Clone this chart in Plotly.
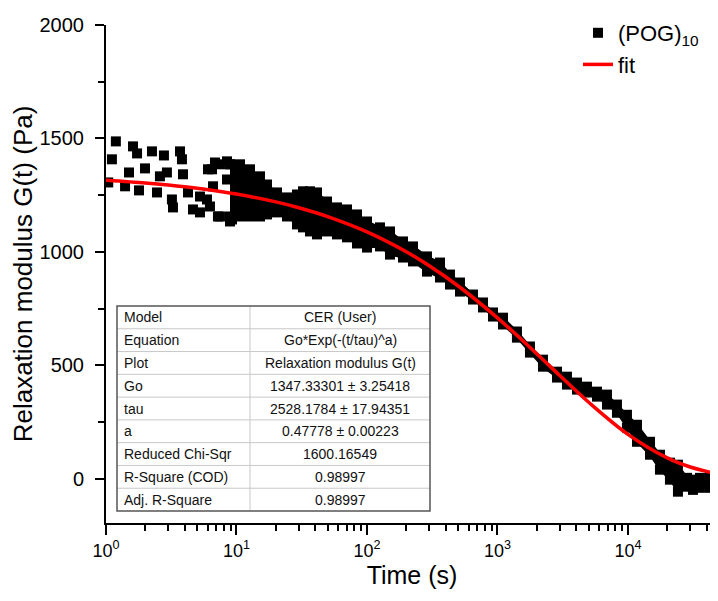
import plotly.graph_objects as go

# ---------------- data ----------------
# sparse early-time measurements (t in s, G in Pa)
t_sparse = [1.04, 1.11, 1.19, 1.40, 1.50, 1.61, 1.73, 1.79, 1.99, 2.25, 2.46, 2.59,
            2.78, 2.93, 3.20, 3.26, 3.69, 3.82, 3.89, 4.25, 4.64, 5.25, 5.25, 5.94,
            6.05, 6.26, 6.49, 6.61, 6.84, 7.21, 7.47, 7.47, 8.46, 8.46, 8.92, 8.92,
            9.24, 10.1, 10.1, 10.6, 12.0]
g_sparse = [1306, 1408, 1487, 1289, 1350, 1465, 1434, 1271, 1368, 1443, 1262, 1333,
            1425, 1350, 1231, 1196, 1443, 1408, 1342, 1262, 1187, 1174, 1244, 1231,
            1364, 1200, 1364, 1289, 1394, 1156, 1386, 1156, 1399, 1319, 1386, 1156,
            1143, 1377, 1200, 1174, 1350]

# dense part of the measurement: upper / lower edge of the point cloud
t_band = [8.92, 10.64, 12.69, 15.14, 17.13, 20.43, 24.38, 29.08, 32.33, 36.58, 41.40,
          49.38, 58.90, 70.27, 83.82, 100.0, 125.8, 150.1, 188.8, 225.2, 288.2, 362.6,
          432.5, 516.0, 649.1, 774.4, 923.8, 1102, 1410, 1774, 2232, 2858, 3408, 4067,
          4851, 5788, 6905, 8236, 9824, 11722, 14748, 17589, 20980, 24160, 28330,
          31490, 35620, 42510, 48080]
g_band_upper = [1386, 1386, 1364, 1333, 1297, 1262, 1240, 1253, 1267, 1267, 1262,
                1222, 1196, 1187, 1165, 1134, 1108, 1090, 1046, 1024, 980, 953,
                900, 865, 812, 777, 733, 710, 649, 583, 525, 472, 450, 424,
                406, 384, 371, 327, 282, 238, 163, 106, 71, 62, 4,
                -4, 4, 9, 9]
g_band_lower = [1134, 1156, 1156, 1156, 1165, 1174, 1156, 1121, 1108, 1090, 1077,
                1090, 1077, 1064, 1037, 1019, 1024, 988, 975, 958, 913, 887,
                856, 825, 790, 755, 715, 680, 622, 556, 494, 446, 415, 393,
                380, 362, 327, 291, 225, 163, 106, 40, -4, -57, -35,
                -49, -40, -40, -18]

# fit curve
t_fit = [1, 2, 3, 5, 10, 20, 30, 50, 100, 200, 300, 500, 1000, 2000, 3000, 5000,
         10000, 20000, 30000, 45000]
g_fit = [1315.8, 1303.6, 1294.5, 1280.3, 1254.8, 1220.3, 1194.7, 1155.7, 1088.1,
         1000.6, 938.9, 849.7, 709.1, 551.0, 455.2, 337.2, 195.8, 91.8, 51.7, 25.7]

# fit report table
table_labels = ["Model", "Equation", "Plot", "Go", "tau", "a",
                "Reduced Chi-Sqr", "R-Square (COD)", "Adj. R-Square"]
table_values = ["CER (User)", "Go*Exp(-(t/tau)^a)", "Relaxation modulus G(t)",
                "1347.33301 ± 3.25418", "2528.1784 ± 17.94351", "0.47778 ± 0.00223",
                "1600.16549", "0.98997", "0.98997"]

x_tickvals = [1, 10, 100, 1000, 10000]
x_ticktext = ["10<sup>0</sup>", "10<sup>1</sup>", "10<sup>2</sup>",
              "10<sup>3</sup>", "10<sup>4</sup>"]
x_minor = [m * 10 ** d for d in range(5) for m in range(2, 10)]

FONT = "Liberation Sans, Arial, sans-serif"

# ---------------- figure ----------------
# the page body has an 8 px default margin, so the figure is 8 px smaller
OFF = 8
SCREEN_W, SCREEN_H = 718, 601
W, H = SCREEN_W - OFF, SCREEN_H - OFF
PLOT_L, PLOT_R, PLOT_TOP, PLOT_BOT = 106, 718, 25, 523   # screen pixels
L = PLOT_L - OFF
R = 0
T = 0
B = SCREEN_H - PLOT_BOT
AREA_TOP = OFF + T
Y_DOMAIN_TOP = (PLOT_BOT - PLOT_TOP) / (PLOT_BOT - AREA_TOP)


def px(x):
    return (x - PLOT_L) / (PLOT_R - PLOT_L)


def py(y):
    return (PLOT_BOT - y) / (PLOT_BOT - AREA_TOP)


fig = go.Figure()

# dense measurement cloud: outline polygon + square markers on its edges
fig.add_trace(go.Scatter(
    x=t_band + t_band[::-1], y=g_band_upper + g_band_lower[::-1],
    mode="lines", fill="toself", fillcolor="black",
    line=dict(width=2, color="black"), showlegend=False, hoverinfo="skip"))
fig.add_trace(go.Scatter(
    x=t_band + t_band, y=g_band_upper + g_band_lower, mode="markers",
    marker=dict(symbol="square", size=10, color="black"),
    showlegend=False, hoverinfo="skip"))
fig.add_trace(go.Scatter(
    x=t_sparse, y=g_sparse, mode="markers", name="(POG)<sub>10</sub>",
    marker=dict(symbol="square", size=10, color="black")))
fig.add_trace(go.Scatter(
    x=t_fit, y=g_fit, mode="lines", name="fit", line_shape="spline",
    line=dict(color="#ff0000", width=3.5)))

# table
shapes = []
tbl_l, tbl_r, tbl_t, tbl_b, tbl_div = 117, 430, 306, 511, 250
row_h = (tbl_b - tbl_t) / len(table_labels)
for k in range(1, len(table_labels)):
    yk = tbl_t + k * row_h
    shapes.append(dict(type="line", xref="paper", yref="paper",
                       x0=px(tbl_l), x1=px(tbl_r), y0=py(yk), y1=py(yk),
                       line=dict(color="#c8c8c8", width=1)))
shapes.append(dict(type="line", xref="paper", yref="paper",
                   x0=px(tbl_div), x1=px(tbl_div), y0=py(tbl_t), y1=py(tbl_b),
                   line=dict(color="#c8c8c8", width=1)))
shapes.append(dict(type="rect", xref="paper", yref="paper",
                   x0=px(tbl_l), x1=px(tbl_r), y0=py(tbl_t), y1=py(tbl_b),
                   line=dict(color="#555555", width=1.5), fillcolor="rgba(0,0,0,0)"))

annotations = []
for k, (lab, val) in enumerate(zip(table_labels, table_values)):
    yc = tbl_t + (k + 0.5) * row_h
    annotations.append(dict(xref="paper", yref="paper", x=px(tbl_l + 5), y=py(yc),
                            text=lab, showarrow=False, xanchor="left", yanchor="middle",
                            font=dict(family=FONT, size=14, color="#111111")))
    annotations.append(dict(xref="paper", yref="paper", x=px(340), y=py(yc),
                            text=val, showarrow=False, xanchor="center", yanchor="middle",
                            font=dict(family=FONT, size=14, color="#111111")))

fig.update_layout(
    width=W, height=H,
    margin=dict(l=L, r=R, t=T, b=B, autoexpand=False),
    paper_bgcolor="white", plot_bgcolor="white",
    font=dict(family=FONT, color="black"),
    shapes=shapes, annotations=annotations,
    legend=dict(x=px(578), y=py(12), xanchor="left", yanchor="top",
                font=dict(family=FONT, size=22, color="black"),
                bgcolor="rgba(0,0,0,0)", tracegroupgap=0, traceorder="normal"),
    xaxis=dict(type="log", range=[0, 4.69], tickvals=x_tickvals, ticktext=x_ticktext,
               automargin=False,
               ticks="outside", ticklen=10, tickwidth=2, tickcolor="black",
               showline=True, linecolor="black", linewidth=2, showgrid=False,
               zeroline=False, tickfont=dict(family=FONT, size=18),
               minor=dict(tickvals=x_minor, ticks="outside", ticklen=6, tickwidth=1.5,
                          tickcolor="black", showgrid=False),
               title=dict(text="Time (s)", font=dict(family=FONT, size=25), standoff=6)),
    yaxis=dict(range=[-195, 2000], domain=[0, Y_DOMAIN_TOP], automargin=False,
               tickvals=[0, 500, 1000, 1500, 2000], ticklabelstandoff=7,
               ticks="outside", ticklen=9, tickwidth=2, tickcolor="black",
               showline=True, linecolor="black", linewidth=2, showgrid=False,
               zeroline=False, tickfont=dict(family=FONT, size=20),
               minor=dict(dtick=250, ticks="outside", ticklen=6, tickwidth=1.5,
                          tickcolor="black", showgrid=False),
               title=dict(text="Relaxation modulus G(t) (Pa)",
                          font=dict(family=FONT, size=26), standoff=4)),
)

fig.write_html("out.html")
